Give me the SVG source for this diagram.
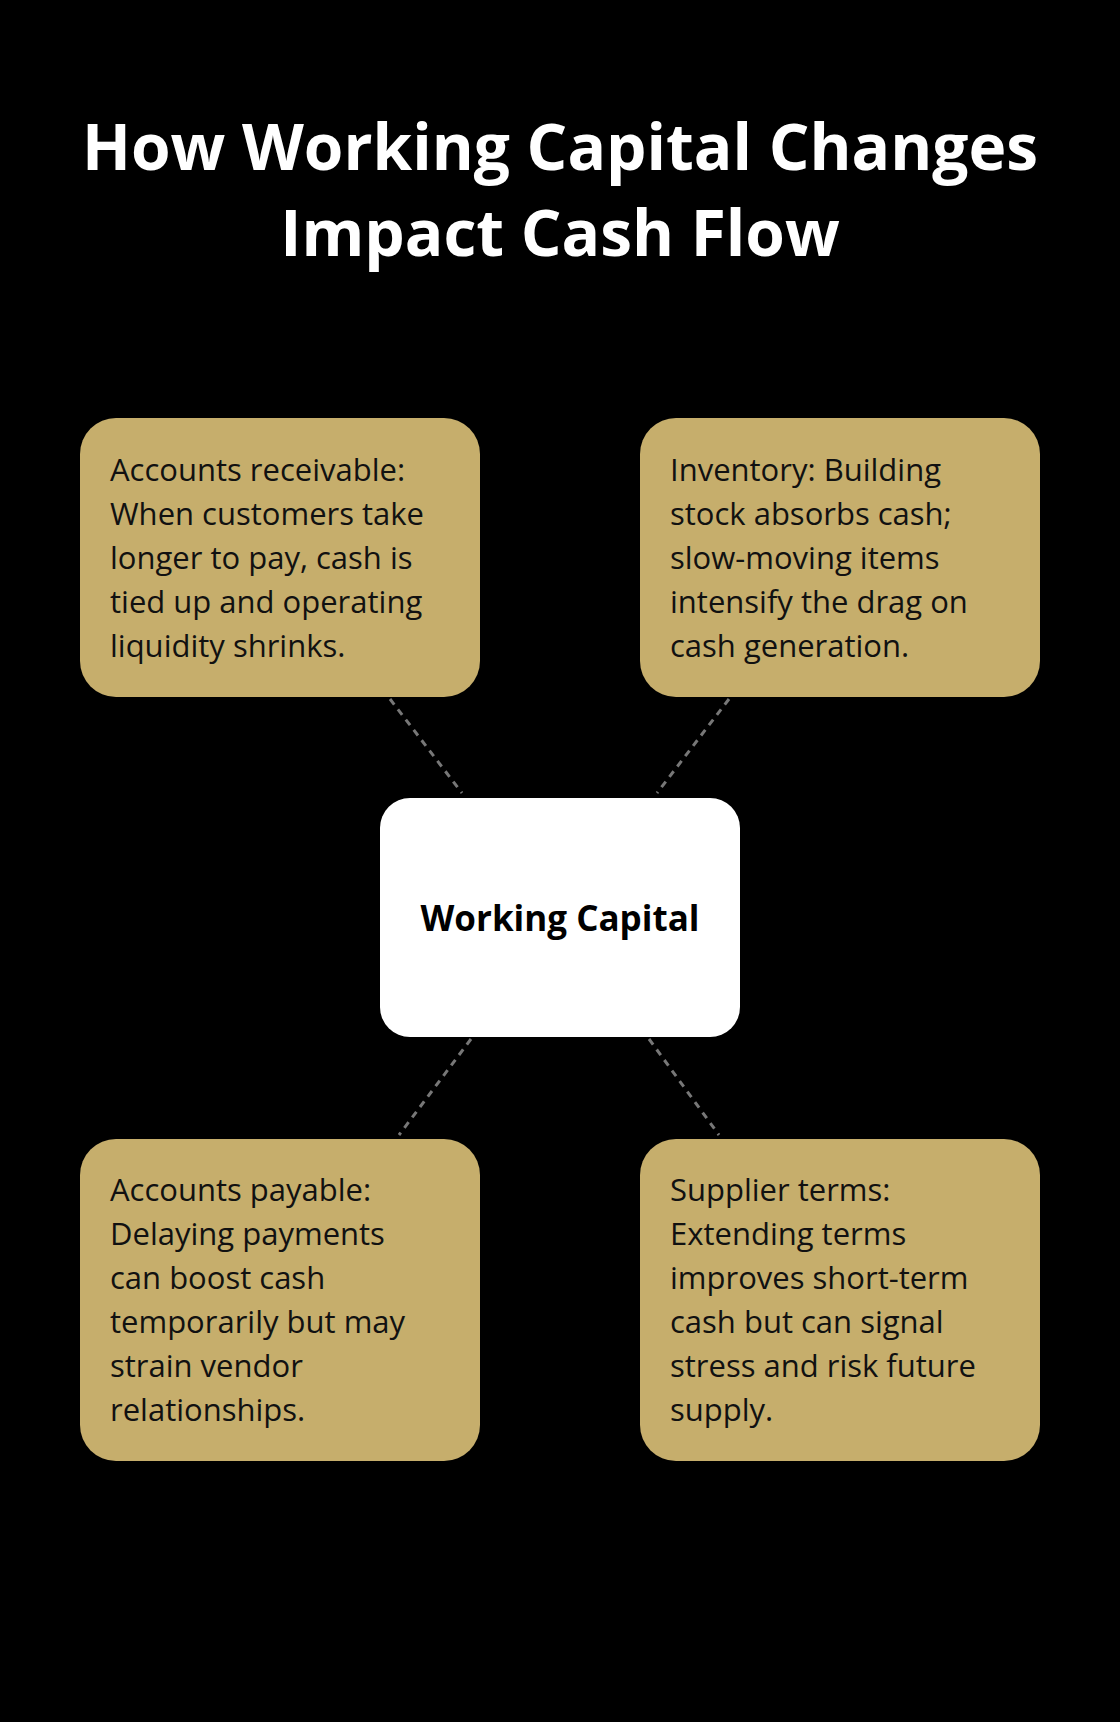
<svg xmlns="http://www.w3.org/2000/svg" width="1120" height="1722" viewBox="0 0 1120 1722">
<style>
.t{font-family:"Open Sans","Noto Sans",sans-serif;font-weight:700;font-size:64px;fill:#fff;text-anchor:middle}
.b{fill:#c6ae6c}
.bt{font-family:"Open Sans","Noto Sans",sans-serif;font-size:31px;fill:#111}
.c{stroke:#777;stroke-width:3;stroke-dasharray:7,6;fill:none}
</style>
<rect width="1120" height="1722" fill="#000"/>
<text class="t" x="560" y="170">How Working Capital Changes</text>
<text class="t" x="560" y="256">Impact Cash Flow</text>
<g id="connectors">
<line class="c" x1="390" y1="699" x2="462" y2="793"/>
<line class="c" x1="729" y1="699" x2="657" y2="793"/>
<line class="c" x1="471" y1="1039" x2="399" y2="1135"/>
<line class="c" x1="649" y1="1039" x2="719" y2="1135"/>
</g>
<g id="center">
<rect x="380" y="798" width="360" height="239" rx="30" fill="#fff"/>
<text x="560" y="931" text-anchor="middle" font-family="Open Sans,Noto Sans,sans-serif" font-weight="700" font-size="35" fill="#000">Working Capital</text>
</g>
<g id="ar">
<rect class="b" x="80" y="418" width="400" height="279" rx="36"/>
<text class="bt" x="110" y="481"><tspan x="110">Accounts receivable:</tspan><tspan x="110" dy="44">When customers take</tspan><tspan x="110" dy="44">longer to pay, cash is</tspan><tspan x="110" dy="44">tied up and operating</tspan><tspan x="110" dy="44">liquidity shrinks.</tspan></text>
</g>
<g id="inv">
<rect class="b" x="640" y="418" width="400" height="279" rx="36"/>
<text class="bt" x="670" y="481"><tspan x="670">Inventory: Building</tspan><tspan x="670" dy="44">stock absorbs cash;</tspan><tspan x="670" dy="44">slow-moving items</tspan><tspan x="670" dy="44">intensify the drag on</tspan><tspan x="670" dy="44">cash generation.</tspan></text>
</g>
<g id="ap">
<rect class="b" x="80" y="1139" width="400" height="322" rx="36"/>
<text class="bt" x="110" y="1201"><tspan x="110">Accounts payable:</tspan><tspan x="110" dy="44">Delaying payments</tspan><tspan x="110" dy="44">can boost cash</tspan><tspan x="110" dy="44">temporarily but may</tspan><tspan x="110" dy="44">strain vendor</tspan><tspan x="110" dy="44">relationships.</tspan></text>
</g>
<g id="st">
<rect class="b" x="640" y="1139" width="400" height="322" rx="36"/>
<text class="bt" x="670" y="1201"><tspan x="670">Supplier terms:</tspan><tspan x="670" dy="44">Extending terms</tspan><tspan x="670" dy="44">improves short-term</tspan><tspan x="670" dy="44">cash but can signal</tspan><tspan x="670" dy="44">stress and risk future</tspan><tspan x="670" dy="44">supply.</tspan></text>
</g>
</svg>
